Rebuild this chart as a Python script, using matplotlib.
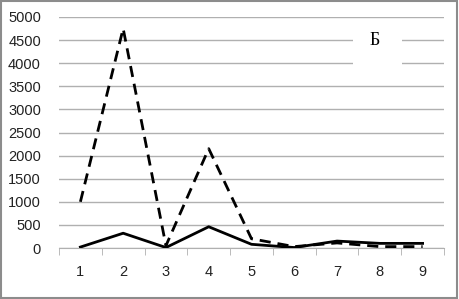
import numpy as np
import matplotlib.pyplot as plt
from matplotlib.patches import Rectangle

# data
categories = [1, 2, 3, 4, 5, 6, 7, 8, 9]
dashed_vals = [1000, 4750, 50, 2150, 200, 30, 110, 30, 30]
solid_vals = [20, 320, 10, 460, 80, 10, 150, 100, 100]
yticks = [0, 500, 1000, 1500, 2000, 2500, 3000, 3500, 4000, 4500, 5000]

fig = plt.figure(figsize=(4.59, 2.99), dpi=100)
ax = fig.add_axes([59/459, 51/299, 385/459, 231/299])

x = np.arange(len(categories))
ax.plot(x, dashed_vals, color='black', lw=2, linestyle=(0, (4, 2.5)), zorder=3)
ax.plot(x, solid_vals, color='black', lw=2, zorder=3)

ax.set_xlim(-0.5, len(categories) - 0.5)
ax.set_ylim(0, 5000)
ax.set_yticks(yticks)
ax.set_yticklabels([str(v) for v in yticks])
ax.set_xticks(x)
ax.set_xticklabels([str(c) for c in categories])
ax.set_xticks(np.arange(-0.5, len(categories)), minor=True)

ax.grid(axis='y', color='#b0b0b0', lw=1)
ax.set_axisbelow(True)
for s in ['top', 'right', 'left']:
    ax.spines[s].set_visible(False)
ax.spines['bottom'].set_color('#b0b0b0')
ax.tick_params(axis='y', length=0, pad=13, labelsize=10.5, labelcolor='#222222')
ax.tick_params(axis='x', which='major', length=0, pad=12, labelsize=10.5, labelcolor='#222222')
ax.tick_params(axis='x', which='minor', length=5, color='#b0b0b0', direction='out')

for lab in ax.get_xticklabels() + ax.get_yticklabels():
    lab.set_fontfamily('Liberation Sans')

# white label box hiding part of the grid
ax.add_patch(Rectangle((6.37, 3890), 1.15, 830, facecolor='white',
                       edgecolor='none', zorder=2))
ax.text(6.89, 4500, 'Б', fontsize=13, family='Liberation Serif',
        ha='center', va='center', zorder=4)

fig.patches.append(Rectangle((0.002, 0.003), 0.994, 0.992, transform=fig.transFigure,
                             fill=False, edgecolor='#8c8c8c', lw=1.5))

fig.savefig('out.png', dpi=100)
